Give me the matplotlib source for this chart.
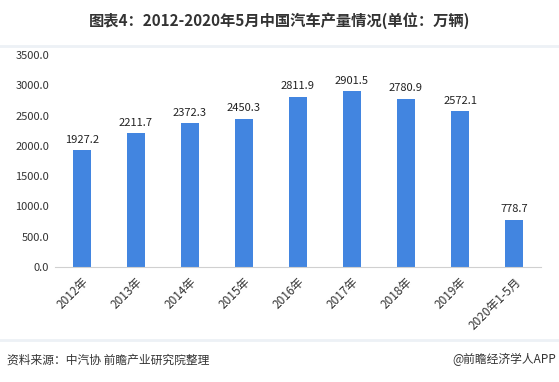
import numpy as np
import matplotlib.pyplot as plt

plt.rcParams['font.family'] = ['Noto Sans CJK SC', 'DejaVu Sans']

# 数据
years = ['2012年', '2013年', '2014年', '2015年', '2016年', '2017年', '2018年', '2019年', '2020年1-5月']
output = [1927.2, 2211.7, 2372.3, 2450.3, 2811.9, 2901.5, 2780.9, 2572.1, 778.7]
yticks = [0, 500, 1000, 1500, 2000, 2500, 3000, 3500]

fig = plt.figure(figsize=(5.59, 3.82), dpi=100, facecolor='white')
ax = fig.add_axes([0.098, 0.301, 0.870, 0.555])

x = np.arange(len(years))
ax.bar(x, output, width=0.34, color='#4285E0', zorder=2)
for xi, v in zip(x, output):
    ax.text(xi, v + 90, f"{v:.1f}", ha='center', va='bottom', fontsize=8, color='#222222')

ax.set_xlim(-0.5, len(years) - 0.5)
ax.set_ylim(0, 3500)
ax.set_yticks(yticks)
ax.set_yticklabels([f"{t:.1f}" for t in yticks], fontsize=8, color='#333333')
ax.set_xticks(x)
ax.set_xticklabels(years, rotation=45, ha='right', rotation_mode='anchor', fontsize=8.5, color='#333333')
ax.tick_params(axis='both', length=0, pad=4)
ax.tick_params(axis='x', pad=6)
for s in ['top', 'right', 'left']:
    ax.spines[s].set_visible(False)
ax.spines['bottom'].set_color('#d0d0d0')

# 标题与分隔线
fig.text(0.5, 0.945, '图表4：2012-2020年5月中国汽车产量情况(单位：万辆)', ha='center', va='center',
         fontsize=11, fontweight='bold', color='#333333')
fig.add_artist(plt.Line2D([0, 1], [0.880, 0.880], color='#edf1f6', lw=2))
fig.add_artist(plt.Line2D([0, 1], [0.110, 0.110], color='#edf1f6', lw=2))

# 脚注
fig.text(0.012, 0.058, '资料来源：中汽协 前瞻产业研究院整理', ha='left', va='center', fontsize=8.5, color='#333333')
fig.text(0.995, 0.058, '@前瞻经济学人APP', ha='right', va='center', fontsize=8.5, color='#333333')

plt.savefig('out.png', dpi=100, facecolor='white')
